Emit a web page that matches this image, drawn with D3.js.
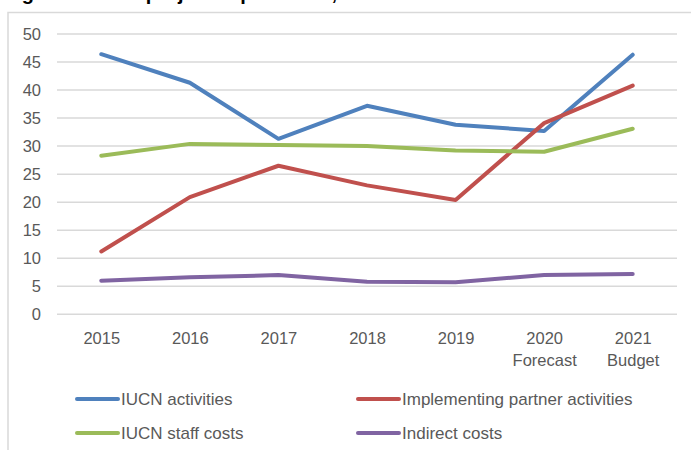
<!DOCTYPE html>
<html>
<head>
<meta charset="utf-8">
<script src="https://cdn.jsdelivr.net/npm/d3@7"></script>
<style>
  html, body { margin: 0; padding: 0; background: #fff; overflow: hidden; }
  svg { display: block; }
</style>
</head>
<body>
<svg id="chart" width="691" height="450"></svg>
<script>
const categories = ["2015", "2016", "2017", "2018", "2019", "2020\nForecast", "2021\nBudget"];
const seriesNames = ["IUCN activities", "Implementing partner activities", "IUCN staff costs", "Indirect costs"];
const iucnActivities = [46.4, 41.3, 31.3, 37.2, 33.8, 32.7, 46.3];
const partnerActivities = [11.2, 20.9, 26.5, 23.0, 20.4, 34.1, 40.8];
const staffCosts = [28.3, 30.4, 30.2, 30.0, 29.2, 29.0, 33.1];
const indirectCosts = [6.0, 6.6, 7.0, 5.8, 5.7, 7.0, 7.2];
const yTicks = [0, 5, 10, 15, 20, 25, 30, 35, 40, 45, 50];
const titleText = "Figure 3: Total project expenditure, 2015–2021";

const colors = ["#4F81BD", "#C0504D", "#9BBB59", "#8064A2"];
const seriesValues = [iucnActivities, partnerActivities, staffCosts, indirectCosts];

const svg = d3.select("#chart");
const font = "'Liberation Sans', Arial, sans-serif";
const textColor = "#595959";

// Title (cropped at the top of the picture, as in the reference)
svg.append("text")
  .attr("x", 4).attr("y", -0.5)
  .attr("font-family", font).attr("font-weight", "bold").attr("font-size", 20)
  .attr("fill", "#000")
  .text(titleText);

// Chart frame
svg.append("rect")
  .attr("x", 8).attr("y", 12.5).attr("width", 700).attr("height", 460)
  .attr("fill", "#fff").attr("stroke", "#d9d9d9").attr("stroke-width", 1.5);

const x = d3.scalePoint().domain(categories).range([57, 677]).padding(0.5);
const y = d3.scaleLinear().domain([0, 50]).range([314.3, 34]);

// Gridlines
svg.append("g").selectAll("line").data(yTicks).join("line")
  .attr("x1", 57).attr("x2", 677)
  .attr("y1", d => y(d)).attr("y2", d => y(d))
  .attr("stroke", "#d9d9d9").attr("stroke-width", 1.5);

// Y axis
const yAxis = svg.append("g").attr("transform", "translate(41,0)")
  .call(d3.axisLeft(y).tickValues(yTicks).tickSize(0).tickPadding(0));
yAxis.select(".domain").remove();
yAxis.selectAll("text")
  .attr("font-family", font).attr("font-size", 16.5).attr("fill", textColor);

// X axis
const xAxis = svg.append("g").attr("transform", "translate(0,314.3)")
  .call(d3.axisBottom(x).tickSize(0).tickPadding(0));
xAxis.select(".domain").remove();
xAxis.selectAll("text").each(function(d) {
  const t = d3.select(this);
  const parts = d.split("\n");
  t.text(null).attr("y", 0).attr("dy", null)
    .attr("font-family", font).attr("font-size", 16.5).attr("fill", textColor);
  parts.forEach((p, i) => {
    t.append("tspan").attr("x", 0).attr("y", 30 + i * 22).text(p);
  });
});

// Lines
const line = d3.line().x((d, i) => x(categories[i])).y(d => y(d));
seriesValues.forEach((vals, k) => {
  svg.append("path").datum(vals)
    .attr("d", line)
    .attr("fill", "none")
    .attr("stroke", colors[k])
    .attr("stroke-width", 4)
    .attr("stroke-linecap", "round")
    .attr("stroke-linejoin", "round");
});

// Legend
const legendPos = [[77, 399], [358, 399], [77, 433], [358, 433]];
seriesNames.forEach((name, k) => {
  const [lx, ly] = legendPos[k];
  svg.append("line")
    .attr("x1", lx).attr("x2", lx + 41).attr("y1", ly).attr("y2", ly)
    .attr("stroke", colors[k]).attr("stroke-width", 4).attr("stroke-linecap", "round");
  svg.append("text")
    .attr("x", lx + 44).attr("y", ly + 6)
    .attr("font-family", font).attr("font-size", 17).attr("fill", textColor)
    .text(name);
});
</script>
</body>
</html>
